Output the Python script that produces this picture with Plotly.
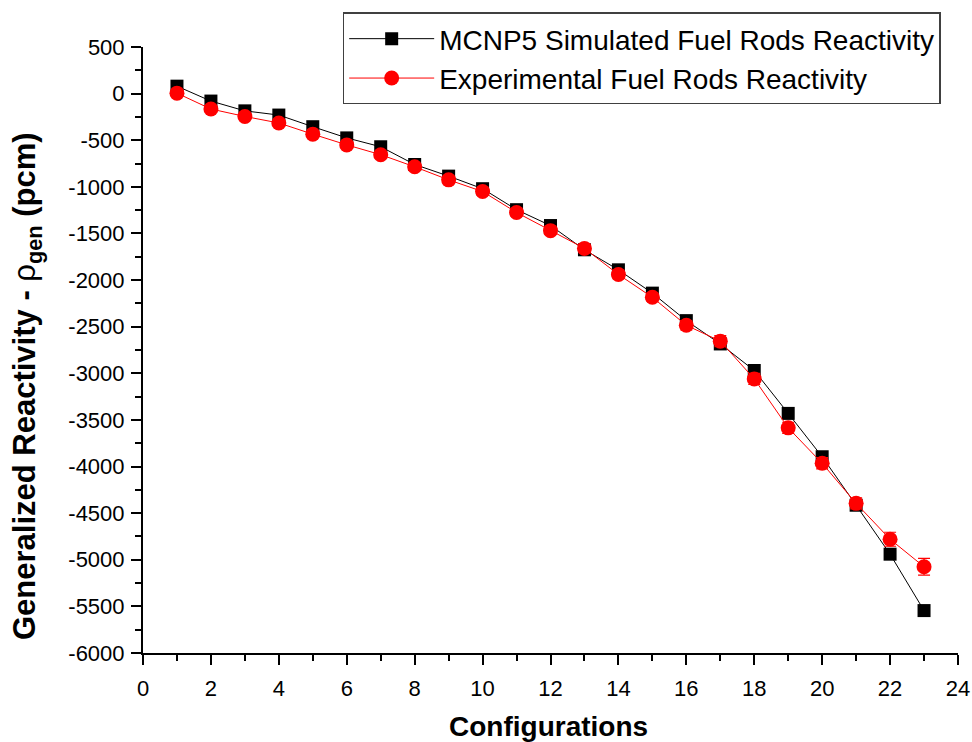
import plotly.graph_objects as go

configs = list(range(1, 24))
mcnp_rho = [80, -80, -185, -230, -355, -475, -570, -760, -885, -1020, -1245, -1415,
            -1675, -1890, -2140, -2435, -2685, -2970, -3430, -3895, -4415, -4940, -5545]
mcnp_err = [30] * 23
exp_rho = [5, -165, -245, -315, -435, -550, -655, -785, -925, -1050, -1275, -1470,
           -1660, -1940, -2185, -2485, -2655, -3060, -3585, -3965, -4395, -4780, -5075]
exp_err = [30, 30, 30, 30, 30, 35, 35, 35, 40, 40, 40, 40,
           45, 45, 45, 50, 60, 60, 60, 60, 60, 75, 90]

mcnp_name = "MCNP5 Simulated Fuel Rods Reactivity"
exp_name = "Experimental Fuel Rods Reactivity"
x_title = "Configurations"
y_title = "<b>Generalized Reactivity - </b>\u03c1<b><sub>gen</sub> (pcm)</b>"

x_ticks = list(range(0, 25, 2))
y_ticks = list(range(-6000, 501, 500))

FONT = "Liberation Sans, Arial, sans-serif"

fig = go.Figure()
fig.add_trace(go.Scatter(
    x=configs, y=mcnp_rho, name=mcnp_name, mode="lines+markers",
    line=dict(color="black", width=1),
    marker=dict(symbol="square", size=13, color="black"),
    error_y=dict(type="data", array=mcnp_err, color="black", thickness=1.2, width=5),
))
fig.add_trace(go.Scatter(
    x=configs, y=exp_rho, name=exp_name, mode="lines+markers",
    line=dict(color="#ff0000", width=1),
    marker=dict(symbol="circle", size=15, color="#ff0000"),
    error_y=dict(type="data", array=exp_err, color="#ff0000", thickness=1.2, width=6),
))

axis_font = dict(family=FONT, size=22, color="black")

fig.update_layout(
    width=972, height=742,
    margin=dict(l=143, r=14, t=47, b=89),
    paper_bgcolor="white", plot_bgcolor="white",
    font=axis_font,
    showlegend=True,
    legend=dict(
        x=0.245, y=1.057, xanchor="left", yanchor="top",
        bgcolor="white", bordercolor="#404040", borderwidth=1.5,
        font=dict(family=FONT, size=28, color="black"),
        itemwidth=85, tracegroupgap=0,
    ),
    xaxis=dict(
        range=[0, 24], tickmode="array", tickvals=x_ticks, ticktext=[str(v) for v in x_ticks],
        showgrid=False, zeroline=False, showline=True, linecolor="black", linewidth=2,
        ticks="outside", ticklen=10, tickwidth=1.5, tickcolor="black",
        minor=dict(dtick=1, ticks="outside", ticklen=6, tickwidth=1.5, tickcolor="black"),
        tickfont=axis_font, automargin=False, ticklabelstandoff=5,
    ),
    yaxis=dict(
        range=[-6000, 500], tickmode="array", tickvals=y_ticks, ticktext=[str(v) for v in y_ticks],
        showgrid=False, zeroline=False, showline=True, linecolor="black", linewidth=2,
        ticks="outside", ticklen=10, tickwidth=1.5, tickcolor="black",
        minor=dict(dtick=250, tick0=0, ticks="outside", ticklen=6, tickwidth=1.5, tickcolor="black"),
        tickfont=axis_font, automargin=False, ticklabelstandoff=2,
    ),
    annotations=[
        dict(text="<b>" + x_title + "</b>", xref="paper", yref="paper",
             x=0.497, y=-0.122, xanchor="center", yanchor="middle", showarrow=False,
             font=dict(family=FONT, size=28, color="black")),
        dict(text=y_title, xref="paper", yref="paper", textangle=-90,
             x=-0.1423, y=0.4406, xanchor="center", yanchor="middle", showarrow=False,
             font=dict(family=FONT, size=31, color="black")),
    ],
)

fig.write_html("out.html")
